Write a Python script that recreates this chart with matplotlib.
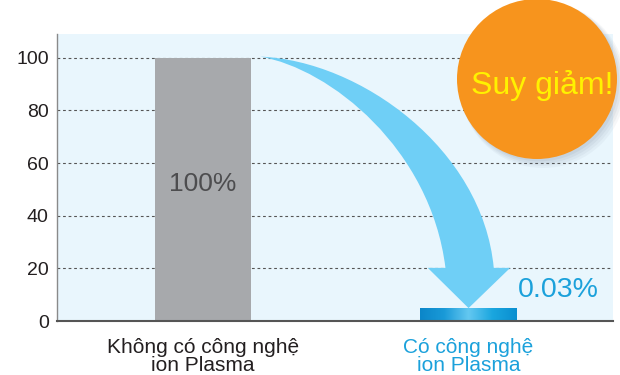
import numpy as np
import matplotlib
matplotlib.use("Agg")
import matplotlib.pyplot as plt
from matplotlib.patches import Ellipse, PathPatch
from matplotlib.path import Path
from matplotlib.colors import LinearSegmentedColormap

plt.rcParams['font.family'] = ['Liberation Sans', 'DejaVu Sans']

# ---- data ----
categories = ["Không có công nghệ\nion Plasma", "Có công nghệ\nion Plasma"]
values = [100, 0.03]
value_labels = ["100%", "0.03%"]
yticks = [0, 20, 40, 60, 80, 100]
badge_text = "Suy giảm!"

# ---- style ----
bg = "#e9f6fd"
gray_bar = "#a7a9ac"
blue_text = "#1ba1db"
dark_text = "#231f20"
arrow_col = "#6fcff6"
orange = "#f7941d"
yellow = "#fff200"
min_visible = 4.6  # minimum drawn height so the tiny bar is visible
bar_w = 0.362

fig = plt.figure(figsize=(6.2, 3.75), dpi=100)
ax = fig.add_axes([57/620, 54/375, 556/620, 287/375])
ax.set_facecolor(bg)

pos = np.arange(len(categories))

# grid
for t in yticks[1:]:
    ax.axhline(t, color="#555555", lw=0.8, ls=(0, (2.5, 2.5)), zorder=1)

# bar 1
ax.bar(pos[0], values[0], width=bar_w, color=gray_bar, zorder=2)

# bar 2 with gradient
h2 = max(values[1], min_visible)
grad_cols = ["#0b86c9", "#1a9ad8", "#64c8f1", "#1aa6df", "#0a8fd0"]
cmap = LinearSegmentedColormap.from_list("g", grad_cols)
gradient = np.linspace(0, 1, 256).reshape(1, -1)
x0b, x1b = pos[1] - bar_w/2, pos[1] + bar_w/2
ax.imshow(gradient, cmap=cmap, aspect="auto", extent=[x0b, x1b, 0, h2], zorder=2,
          interpolation="bicubic")
ax.set_xlim(-0.55, 1.544)
ax.set_ylim(0, 109)

# value labels
ax.text(pos[0], 52, value_labels[0], ha="center", va="center", fontsize=19,
        color="#4d4d4f", zorder=3)
ax.text(x1b + 0.005, 11.8, value_labels[1], ha="left", va="center", fontsize=20.5,
        color=blue_text, zorder=3)

# curved arrow from bar 1 top to bar 2
xs, ys = pos[0] + bar_w/2 + 0.035, values[0] + 0.4
xe, ye = pos[1], h2 + 0.3
dx, dy = xe - xs, ye - ys
def P(u, v):
    return (xs + u*dx, ys + v*dy)
verts = [P(0, 0),
         P(0.48, 0.016), P(1.067, 0.367), P(1.121, 0.84),   # outer curve
         P(1.2, 0.84), P(1.0, 1.0), P(0.804, 0.84), P(0.889, 0.84),  # head
         P(0.818, 0.367), P(0.336, 0.048), P(0, 0),           # inner curve
         P(0, 0)]
codes = [Path.MOVETO,
         Path.CURVE4, Path.CURVE4, Path.CURVE4,
         Path.LINETO, Path.LINETO, Path.LINETO, Path.LINETO,
         Path.CURVE4, Path.CURVE4, Path.CURVE4,
         Path.CLOSEPOLY]
ax.add_patch(PathPatch(Path(verts, codes), facecolor=arrow_col, edgecolor="none", zorder=4))

# axes styling
for s in ["top", "right"]:
    ax.spines[s].set_visible(False)
ax.spines["left"].set_color("#8a8a8a")
ax.spines["left"].set_linewidth(1.0)
ax.spines["bottom"].set_color("#555555")
ax.spines["bottom"].set_linewidth(1.5)
ax.spines["bottom"].set_zorder(5)
ax.set_yticks(yticks)
ax.set_yticklabels([str(t) for t in yticks], fontsize=14, color=dark_text)
ax.tick_params(axis="y", length=0, pad=6)
ax.set_xticks(pos)
ax.set_xticklabels(categories, fontsize=15, linespacing=0.95)
ax.tick_params(axis="x", length=0, pad=12)
for lbl, c in zip(ax.get_xticklabels(), [dark_text, blue_text]):
    lbl.set_color(c)

# orange badge (circle in pixel space -> axes fraction)
aw, ah = 556, 287
cx, cy = (537 - 57)/aw, (321 - 79)/ah
r = 80
for i, a in enumerate([0.05, 0.06, 0.07, 0.08]):
    off = 6 - i*1.2
    ax.add_patch(Ellipse((cx + off/aw, cy - off/ah), 2*(r + 3 - i)/aw, 2*(r + 3 - i)/ah,
                         transform=ax.transAxes, facecolor="#5a6a80", alpha=a,
                         edgecolor="none", clip_on=False, zorder=6))
ax.add_patch(Ellipse((cx, cy), 2*r/aw, 2*r/ah, transform=ax.transAxes,
                     facecolor=orange, edgecolor="none", clip_on=False, zorder=7))
ax.text(cx + 5/aw, cy - 6/ah, badge_text, transform=ax.transAxes, ha="center",
        va="center", fontsize=23, color=yellow, zorder=8, clip_on=False)

fig.savefig("out.png", dpi=100)
